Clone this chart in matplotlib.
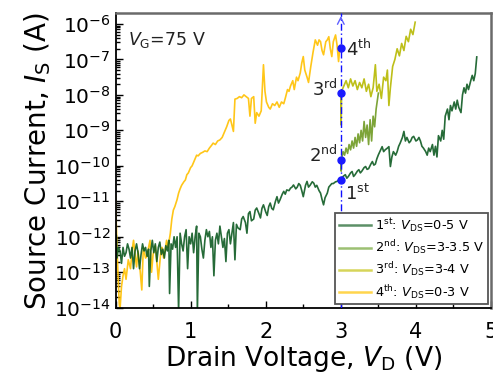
import numpy as np
import matplotlib
matplotlib.use("Agg")
import matplotlib.pyplot as plt
from matplotlib.lines import Line2D
from matplotlib.ticker import LogLocator, MultipleLocator

# ---- data (x in V, values are log10 of source current in A) ----
s1_x = [0.00, 0.01, 0.02, 0.04, 0.06, 0.08, 0.10, 0.12, 0.14, 0.16, 0.18, 0.20, 0.22, 0.24, 0.26, 0.28,
        0.30, 0.32, 0.34, 0.36, 0.38, 0.40, 0.42, 0.44, 0.45, 0.47, 0.49, 0.51, 0.53, 0.55, 0.57, 0.59,
        0.61, 0.63, 0.65, 0.67, 0.69, 0.71, 0.72, 0.74, 0.76, 0.78, 0.80, 0.82, 0.84, 0.86, 0.88, 0.90,
        0.92, 0.94, 0.96, 0.98, 1.00, 1.02, 1.04, 1.06, 1.08, 1.09, 1.11, 1.13, 1.15, 1.17, 1.19, 1.21,
        1.23, 1.25, 1.27, 1.29, 1.31, 1.33, 1.35, 1.37, 1.39, 1.41, 1.43, 1.45, 1.47, 1.49, 1.51, 1.53,
        1.55, 1.57, 1.59, 1.61, 1.63, 1.66, 1.68, 1.70, 1.73, 1.75, 1.77, 1.79, 1.81, 1.84, 1.86, 1.88,
        1.91, 1.93, 1.95, 1.97, 2.00, 2.02, 2.04, 2.06, 2.08, 2.10, 2.13, 2.15, 2.17, 2.19, 2.22, 2.24,
        2.26, 2.28, 2.31, 2.33, 2.35, 2.37, 2.40, 2.42, 2.44, 2.46, 2.48, 2.50, 2.53, 2.55, 2.57, 2.59,
        2.62, 2.64, 2.66, 2.68, 2.71, 2.73, 2.75, 2.77, 2.79, 2.82, 2.84, 2.86, 2.88, 2.90, 2.93, 2.95,
        2.97, 3.00, 3.03, 3.06, 3.08, 3.10, 3.13, 3.15, 3.17, 3.19, 3.22, 3.24, 3.26, 3.28, 3.31, 3.33,
        3.35, 3.37, 3.40, 3.42, 3.44, 3.46, 3.48, 3.50, 3.53, 3.55, 3.57, 3.59, 3.62, 3.64, 3.66, 3.68,
        3.70, 3.73, 3.75, 3.77, 3.79, 3.82, 3.84, 3.86, 3.88, 3.91, 3.93, 3.95, 3.97, 4.00, 4.02, 4.04,
        4.06, 4.08, 4.10, 4.13, 4.15, 4.17, 4.19, 4.22, 4.24, 4.26, 4.28, 4.30, 4.33, 4.35, 4.37, 4.39,
        4.42, 4.44, 4.46, 4.48, 4.51, 4.53, 4.55, 4.57, 4.60, 4.62, 4.64, 4.66, 4.68, 4.70, 4.73, 4.75,
        4.77, 4.79, 4.81]
s1_log = [-12.3, -11.95, -12.6, -12.3, -12.4, -12.75, -12.3, -12.55, -12.45, -12.2, -12.35, -12.6, -12.3, -12.9, -12.4, -12.2,
          -12.45, -12.9, -12.5, -12.2, -12.4, -12.3, -12.55, -12.35, -13.4, -12.4, -12.1, -12.45, -12.2, -12.7, -12.3, -12.15,
          -12.5, -12.35, -12.6, -12.25, -12.4, -12.1, -13.6, -12.2, -12.35, -12.0, -12.3, -12.0, -14.1, -11.9, -12.2, -12.4,
          -12.0, -11.8, -12.9, -12.0, -12.2, -11.9, -12.45, -12.0, -11.7, -14.1, -11.9, -12.0, -12.35, -12.6, -12.1, -11.8,
          -12.0, -11.85, -12.3, -12.0, -13.1, -12.1, -11.9, -12.2, -11.7, -12.0, -12.3, -12.05, -12.7, -11.9, -11.8, -12.2,
          -11.9, -11.6, -12.65, -11.65, -11.75, -11.8, -11.5, -11.43, -11.6, -11.9, -11.35, -11.29, -11.55, -11.5, -11.25, -11.19,
          -11.35, -11.47, -11.2, -11.1, -11.3, -11.4, -11.15, -11.05, -11.2, -11.24, -11.0, -10.87, -11.05, -10.96, -10.8, -10.72,
          -10.8, -10.68, -10.7, -10.63, -10.6, -10.54, -10.65, -10.6, -10.5, -10.55, -10.7, -10.87, -10.55, -10.44, -10.6, -10.55,
          -10.45, -10.49, -10.6, -10.55, -10.7, -10.77, -10.95, -11.1, -10.9, -10.77, -10.6, -10.55, -10.5, -10.5, -10.45, -10.44,
          -10.4, -10.39, -10.3, -10.25, -10.35, -10.3, -10.2, -10.16, -10.3, -10.25, -10.15, -10.11, -10.2, -10.15, -10.05, -10.02,
          -10.1, -10.08, -9.95, -9.88, -9.98, -9.95, -9.8, -9.69, -9.55, -9.46, -9.6, -9.55, -9.5, -9.46, -10.02, -9.75,
          -9.6, -9.7, -9.6, -9.45, -9.36, -9.2, -9.03, -9.3, -9.2, -9.35, -9.3, -9.2, -9.17, -9.3, -9.27, -9.2,
          -9.3, -9.45, -9.5, -9.6, -9.7, -9.5, -9.6, -9.4, -9.7, -9.45, -9.75, -9.15, -9.3, -9.0, -9.25, -8.6,
          -8.4, -8.7, -8.3, -8.45, -8.2, -8.4, -8.15, -8.35, -8.5, -8.0, -7.8, -7.95, -7.7, -7.85, -7.6, -7.45,
          -7.6, -7.4, -6.93]

s2_x = [3.00, 3.005, 3.01, 3.03, 3.05, 3.07, 3.09, 3.11, 3.13, 3.15, 3.17, 3.19, 3.21, 3.23, 3.25, 3.27,
        3.29, 3.31, 3.33, 3.35, 3.37, 3.39, 3.41, 3.43, 3.45, 3.47, 3.49, 3.50]
s2_log = [-9.83, -10.15, -9.8, -9.6, -9.7, -9.5, -9.65, -9.4, -9.55, -9.3, -9.5, -9.2, -9.45, -9.1, -9.35, -9.0,
          -9.3, -8.75, -9.2, -8.85, -9.4, -8.7, -9.3, -8.6, -8.9, -8.4, -8.1, -7.95]

s3_x = [3.00, 3.005, 3.01, 3.04, 3.07, 3.10, 3.13, 3.16, 3.19, 3.22, 3.25, 3.28, 3.31, 3.34, 3.37, 3.40,
        3.43, 3.46, 3.48, 3.51, 3.54, 3.57, 3.60, 3.62, 3.64, 3.66, 3.69, 3.72, 3.75, 3.78, 3.81, 3.84,
        3.87, 3.90, 3.93, 3.96, 3.99]
s3_log = [-7.95, -8.85, -7.9, -7.75, -7.6, -7.8, -7.55, -7.75, -7.6, -7.85, -7.65, -7.8, -7.55, -7.9, -7.7, -8.05,
          -7.8, -7.15, -7.9, -7.7, -8.1, -7.5, -7.6, -7.3, -8.3, -7.8, -7.2, -7.0, -6.7, -6.9, -6.55, -6.75,
          -6.35, -6.5, -6.15, -6.3, -5.95]

s4_x = [0.00, 0.01, 0.02, 0.03, 0.05, 0.06, 0.08, 0.10, 0.12, 0.14, 0.17, 0.20, 0.22, 0.24, 0.26, 0.28,
        0.30, 0.33, 0.35, 0.37, 0.40, 0.42, 0.44, 0.46, 0.48, 0.50, 0.53, 0.55, 0.57, 0.60, 0.62, 0.64,
        0.66, 0.68, 0.70, 0.73, 0.75, 0.77, 0.79, 0.82, 0.84, 0.86, 0.88, 0.91, 0.93, 0.95, 0.97, 1.00,
        1.02, 1.05, 1.08, 1.10, 1.13, 1.16, 1.19, 1.22, 1.25, 1.28, 1.30, 1.33, 1.36, 1.39, 1.42, 1.45,
        1.48, 1.51, 1.53, 1.55, 1.57, 1.59, 1.62, 1.65, 1.68, 1.71, 1.74, 1.77, 1.79, 1.81, 1.84, 1.86,
        1.88, 1.91, 1.94, 1.97, 1.99, 2.01, 2.04, 2.06, 2.09, 2.12, 2.15, 2.18, 2.21, 2.24, 2.26, 2.29,
        2.31, 2.33, 2.36, 2.38, 2.41, 2.43, 2.46, 2.48, 2.50, 2.52, 2.55, 2.57, 2.60, 2.63, 2.66, 2.69,
        2.71, 2.73, 2.75, 2.77, 2.80, 2.82, 2.84, 2.86, 2.88, 2.90, 2.93, 2.95, 2.97, 2.99, 3.00]
s4_log = [-10.85, -11.6, -12.3, -12.9, -13.9, -14.05, -13.4, -13.1, -12.9, -13.2, -12.65, -12.9, -12.4, -12.1, -12.5, -12.85,
          -12.4, -13.0, -13.5, -12.3, -12.6, -12.55, -12.3, -12.1, -13.0, -12.5, -12.25, -12.7, -13.2, -12.5, -12.3, -12.6,
          -12.4, -12.1, -12.3, -11.9, -11.5, -11.25, -11.15, -10.95, -10.77, -10.65, -10.55, -10.45, -10.4, -10.25, -10.2, -10.05,
          -10.0, -9.85, -9.7, -9.72, -9.65, -9.62, -9.58, -9.6, -9.5, -9.42, -9.36, -9.4, -9.3, -9.27, -9.2, -9.05,
          -8.9, -8.72, -8.68, -8.85, -9.03, -8.12, -8.1, -8.05, -8.08, -8.0, -8.05, -8.1, -8.6, -8.1, -8.05, -8.8,
          -8.5, -8.6, -8.45, -7.15, -7.9, -8.2, -8.35, -8.4, -8.25, -8.3, -8.2, -8.35, -8.2, -8.25, -8.1, -7.85,
          -7.9, -7.75, -7.6, -7.85, -7.5, -7.6, -7.38, -7.1, -6.92, -7.3, -7.5, -7.65, -7.2, -6.8, -6.45, -6.6,
          -6.45, -6.5, -6.75, -6.87, -6.5, -6.45, -6.36, -6.7, -6.92, -6.5, -6.31, -6.6, -7.06, -6.6, -6.68]

marker_x = [3.0, 3.0, 3.0, 3.0]
marker_log = [-10.4, -9.83, -7.95, -6.68]
marker_labels = ["1$^{\\rm st}$", "2$^{\\rm nd}$", "3$^{\\rm rd}$", "4$^{\\rm th}$"]

series_labels = ["1$^{\\rm st}$: $V_{\\rm DS}$=0-5 V", "2$^{\\rm nd}$: $V_{\\rm DS}$=3-3.5 V",
                 "3$^{\\rm rd}$: $V_{\\rm DS}$=3-4 V", "4$^{\\rm th}$: $V_{\\rm DS}$=0-3 V"]
line_colors = ["#0e5b22", "#6f9a22", "#b6b800", "#ffc000"]
legend_colors = ["#5c9067", "#9cc073", "#d6d55a", "#ffd54d"]

# ---- figure ----
fig = plt.figure(figsize=(4.93, 3.81), dpi=100)
ax = fig.add_axes([0.2343, 0.1924, 0.7617, 0.7727])

order = [(s4_x, s4_log), (s1_x, s1_log), (s2_x, s2_log), (s3_x, s3_log)]
cols = [line_colors[3], line_colors[0], line_colors[1], line_colors[2]]
for (xs, ls), c in zip(order, cols):
    ax.plot(xs, 10.0 ** np.array(ls), color=c, lw=1.2, alpha=0.9, zorder=2)

ax.set_yscale("log")
ax.set_xlim(0, 5)
ax.set_ylim(1e-14, 10 ** -5.7)

# vertical dash-dot line with arrow
ax.axvline(3.0, color="#1010ff", lw=1.0, ls=(0, (5, 2, 1, 2)), zorder=3)
ax.annotate("", xy=(3.0, 10 ** -5.7), xytext=(3.0, 10 ** -5.95),
            arrowprops=dict(arrowstyle="->", color="#6060ff", lw=1.0, mutation_scale=12),
            annotation_clip=False, zorder=3)
ax.plot(marker_x, 10.0 ** np.array(marker_log), "o", color="#1a1aff", ms=5, zorder=4)

txt_kw = dict(fontsize=13, color="#222222", va="center")
ax.text(3.06, 10 ** -10.8, marker_labels[0], ha="left", **txt_kw)
ax.text(2.96, 10 ** -9.7, marker_labels[1], ha="right", **txt_kw)
ax.text(2.96, 10 ** -7.85, marker_labels[2], ha="right", **txt_kw)
ax.text(3.07, 10 ** -6.7, marker_labels[3], ha="left", **txt_kw)

ax.text(0.17, 10 ** -6.45, "$V_{\\rm G}$=75 V", fontsize=12.5, color="#222222", va="center", ha="left")

# ticks & spines
ax.xaxis.set_major_locator(MultipleLocator(1))
ax.xaxis.set_minor_locator(MultipleLocator(0.5))
ax.yaxis.set_major_locator(LogLocator(base=10, numticks=20))
ax.yaxis.set_minor_locator(LogLocator(base=10, subs=np.arange(2, 10), numticks=20))
ax.tick_params(which="both", direction="in", top=False, right=False, colors="black", width=1.0)
ax.tick_params(which="major", length=5, labelsize=14.5)
ax.tick_params(which="minor", length=3)
ax.tick_params(axis="x", which="major", labelsize=15, pad=10)
for side in ["left", "bottom"]:
    ax.spines[side].set_color("black")
    ax.spines[side].set_linewidth(1.3)
for side in ["top", "right"]:
    ax.spines[side].set_color("#6a6a6a")
    ax.spines[side].set_linewidth(1.8)

ax.set_xlabel("Drain Voltage, $V_{\\rm D}$ (V)", fontsize=19, labelpad=2)
ax.set_ylabel("Source Current, $I_{\\rm S}$ (A)", fontsize=20, labelpad=1)

handles = [Line2D([0], [0], color=c, lw=1.8) for c in legend_colors]
leg = ax.legend(handles, series_labels, loc="lower right", fontsize=9.3, fancybox=False,
                edgecolor="#555555", framealpha=1, handlelength=2.5, handletextpad=0.25,
                borderpad=0.3, labelspacing=0.32, borderaxespad=0.25)
leg.get_frame().set_linewidth(1.3)

fig.savefig("out.png", dpi=100)
